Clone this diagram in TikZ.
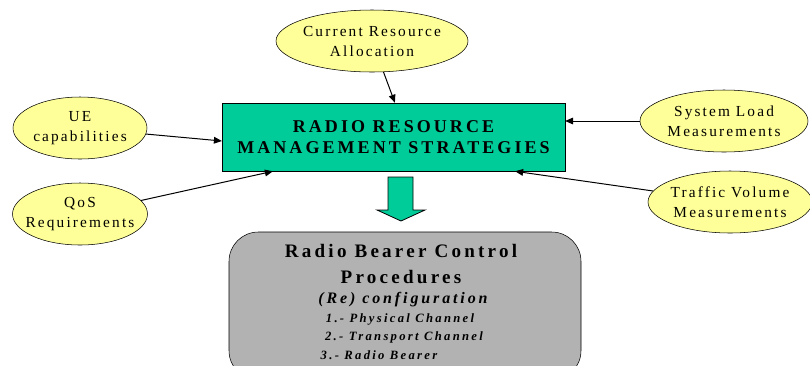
\documentclass[tikz,border=0pt]{standalone}
\usepackage{fontspec}
\setmainfont{Liberation Serif}
\newfontfamily\spacedfont[LetterSpace=14]{Liberation Serif}
\newfontfamily\headfont[LetterSpace=17]{Liberation Serif}
\newfontfamily\procfont[LetterSpace=18]{Liberation Serif}
\usetikzlibrary{shapes.geometric,arrows.meta,calc}
\definecolor{rrmgreen}{RGB}{0,204,153}
\definecolor{inputyellow}{RGB}{255,255,153}
\definecolor{procgray}{RGB}{178,178,178}
\begin{document}
\begin{tikzpicture}[x=0.75pt,y=-0.75pt,
        input/.style={draw, ellipse, fill=inputyellow, inner xsep=-5pt, inner ysep=0pt, minimum height=46.5pt,
            align=center, font=\spacedfont\fontsize{11.5}{15}\selectfont},
        rrm/.style={draw, rectangle, fill=rrmgreen, minimum width=257pt, minimum height=51pt,
            align=center, font=\headfont\bfseries\fontsize{13.5}{15.75}\selectfont},
        proc/.style={draw, rectangle, rounded corners=22pt, fill=procgray,
            minimum width=264pt, minimum height=111pt},
        ptext/.style={inner sep=0pt, font=\procfont\bfseries\itshape\fontsize{9.5}{11}\selectfont},
        feed/.style={-{Triangle[length=6pt,width=5pt]}, line width=0.75pt}
    ]
    \clip (0,0) rectangle (810,365);

    \node [rrm] (RRM) at (393.5, 137) {RADIO RESOURCE\\MANAGEMENT STRATEGIES};

    \node [input, minimum width=144pt] (CR) at (372, 41) {Current Resource\\Allocation};
    \node [input, minimum width=100.5pt] (UE) at (80, 128) {UE\\capabilities};
    \node [input, minimum width=100.5pt] (QoS) at (80, 214) {QoS\\Requirements};
    \node [input, minimum width=126pt] (SL) at (724, 121) {System Load\\Measurements};
    \node [input, minimum width=123pt] (TV) at (730, 202) {Traffic Volume\\Measurements};

    \draw [feed] (CR) -- ($(RRM.north west)+(173,0)$);
    \draw [feed] (UE) -- ($(RRM.west)+(0,4)$);
    \draw [feed] (QoS) -- ($(RRM.south west)+(51,0)$);
    \draw [feed] (SL) -- (SL -| RRM.east);
    \draw [feed] (TV) -- ($(RRM.south east)+(-50,0)$);

    % block arrow down
    \draw [fill=rrmgreen, line width=0.6pt] (388,177) -- (413,177) -- (413,210) -- (425,210)
        -- (401,221) -- (377,210) -- (388,210) -- cycle;

    \node [proc] (RBC) at (405, 306) {};
    \node [font=\headfont\bfseries\fontsize{14.3}{19.5}\selectfont, align=center, inner sep=0pt]
        (RBCtitle) at (401, 264) {Radio Bearer Control\\Procedures};
    \node [ptext, font=\procfont\bfseries\itshape\fontsize{12}{14}\selectfont] (Conf) at (403, 300) {(Re) configuration};
    \node [ptext] (Phy) at (400, 319) {1.- Physical Channel};
    \node [ptext] (Tra) at (404, 337) {2.- Transport Channel};
    \node [ptext] (RB) at (379, 355) {3.- Radio Bearer};
\end{tikzpicture}
\end{document}
